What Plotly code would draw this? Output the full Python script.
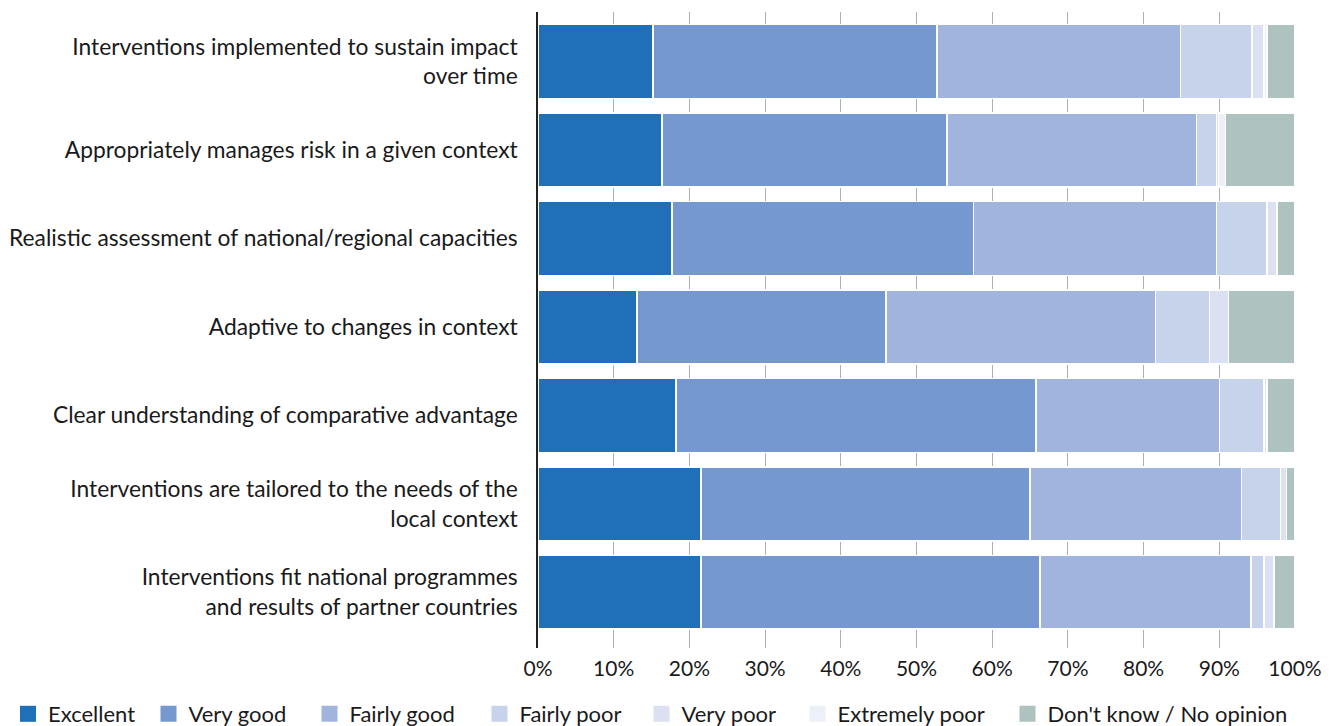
import plotly.graph_objects as go

categories = [
    "Interventions implemented to sustain impact<br>over time",
    "Appropriately manages risk in a given context",
    "Realistic assessment of national/regional capacities",
    "Adaptive to changes in context",
    "Clear understanding of comparative advantage",
    "Interventions are tailored to the needs of the<br>local context",
    "Interventions fit national programmes<br>and results of partner countries",
]

excellent      = [15.2, 16.4, 17.7, 13.1, 18.2, 21.5, 21.5]
very_good      = [37.5, 37.6, 39.8, 32.9, 47.6, 43.5, 44.8]
fairly_good    = [32.2, 33.0, 32.1, 35.6, 24.2, 27.9, 27.9]
fairly_poor    = [9.4, 2.6, 6.7, 7.1, 5.9, 5.2, 1.7]
very_poor      = [1.6, 0.3, 1.3, 2.5, 0.4, 0.8, 1.3]
extremely_poor = [0.4, 0.9, 0.0, 0.0, 0.0, 0.0, 0.0]
dont_know      = [3.7, 9.2, 2.4, 8.8, 3.7, 1.1, 2.8]

series_names = ["Excellent", "Very good", "Fairly good", "Fairly poor",
                "Very poor", "Extremely poor", "Don't know / No opinion"]
series_values = [excellent, very_good, fairly_good, fairly_poor,
                 very_poor, extremely_poor, dont_know]
series_colors = ["#1f70b8", "#7498cf", "#a1b4dd", "#c7d2eb",
                 "#dbe1f2", "#edf0f8", "#aec2bf"]

tick_vals = [0, 10, 20, 30, 40, 50, 60, 70, 80, 90, 100]
tick_text = [f"{v}%" for v in tick_vals]

FONT = "Lato, 'Open Sans', sans-serif"
W, H = 1328, 718  # page body adds an 8px margin
ML, MR = 530, 41
PLOT_W = W - ML - MR

# legend entry left positions (page px) of the square symbols
legend_square_left = [13, 159, 320, 490, 652, 808, 1018]

fig = go.Figure()
for name, vals, color in zip(series_names, series_values, series_colors):
    fig.add_trace(go.Bar(
        y=categories, x=vals, name=name, orientation="h",
        marker=dict(color=color, line=dict(color="white", width=1.5)),
        hovertemplate="%{y}: %{x}%<extra>" + name + "</extra>",
        showlegend=False,
    ))

legend_layouts = {}
for i, (name, color) in enumerate(zip(series_names, series_colors)):
    key = "legend" if i == 0 else f"legend{i + 1}"
    fig.add_trace(go.Scatter(
        x=[None], y=[None], mode="markers", name=name,
        marker=dict(symbol="square", size=19, color=color),
        legend=key, showlegend=True, hoverinfo="skip",
    ))
    start = legend_square_left[i] + 9.5 - 8 - 20  # figure px
    legend_layouts[key] = dict(
        orientation="h", xref="paper", yref="container",
        x=(start - ML) / PLOT_W, y=1 - (714 - 8) / H,
        xanchor="left", yanchor="middle",
        font=dict(size=22, family=FONT, color="#1a1a1a"),
        bgcolor="rgba(0,0,0,0)", borderwidth=0,
        itemwidth=30, itemsizing="trace",
    )

fig.update_layout(
    barmode="stack",
    bargap=0.165,
    width=W, height=H,
    margin=dict(l=ML, r=MR, t=4, b=78),
    plot_bgcolor="white", paper_bgcolor="white",
    font=dict(family=FONT, size=23, color="#1a1a1a"),
    xaxis=dict(
        range=[0, 100], tickvals=tick_vals, ticktext=tick_text,
        showgrid=True, gridcolor="#b0b0b0", gridwidth=1,
        zeroline=False, showline=False, automargin=False,
        ticks="", tickfont=dict(size=21), ticklabelstandoff=6,
    ),
    yaxis=dict(
        categoryorder="array", categoryarray=categories,
        range=[6.63, -0.56], automargin=False,
        showline=True, linecolor="#222222", linewidth=1.5,
        ticks="", ticklabelstandoff=14,
        tickfont=dict(size=22.8),
    ),
    showlegend=True,
    **legend_layouts,
)

fig.write_html("out.html")
